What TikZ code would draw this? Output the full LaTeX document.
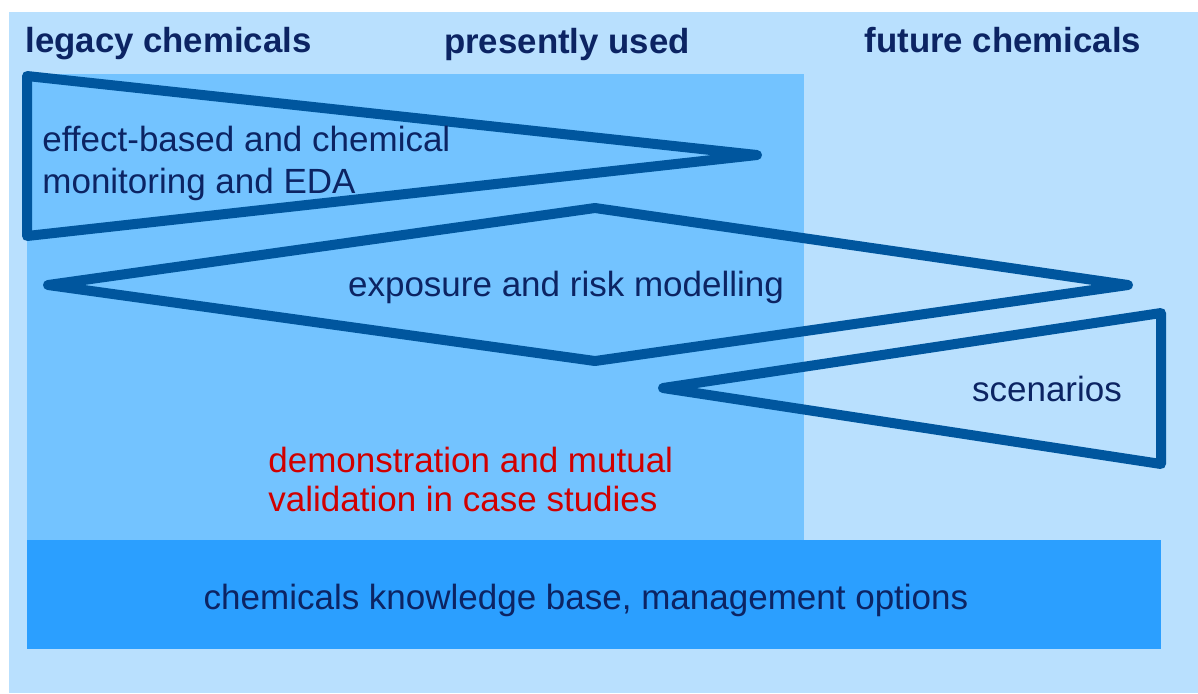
\documentclass[tikz,border=0pt]{standalone}
\usepackage{fontspec}
\setmainfont{Liberation Sans}
\definecolor{bglight}{HTML}{B9E0FE}
\definecolor{bgmid}{HTML}{73C3FF}
\definecolor{bgstrong}{HTML}{2B9FFF}
\definecolor{edgeblue}{HTML}{00569E}
\definecolor{navy}{HTML}{0C2463}
\definecolor{casered}{HTML}{D00000}
\tikzstyle{outline}=[draw=edgeblue, line width=5pt, line join=round, line cap=round]
\tikzstyle{txt}=[text=navy, inner sep=0pt, font=\fontsize{17.5}{19.5}\selectfont]
\tikzstyle{heading}=[txt, font=\bfseries\fontsize{17.4}{20}\selectfont]

\begin{document}
\begin{tikzpicture}[x=0.5pt,y=-0.5pt]
\useasboundingbox (0,0) rectangle (1198,693);
% panels
\fill[bglight] (9,12) rectangle (1198,693);
\fill[bgmid] (27,74) rectangle (804,540);
\fill[bgstrong] (27,540) rectangle (1161,649);
% headings
\node[heading, anchor=west] (legacy) at (25,44) {legacy chemicals};
\node[heading] (present) at (567,44) {presently used};
\node[heading] (future) at (1003,40) {future chemicals};
% monitoring wedge
\coordinate (m1) at (27,76);
\coordinate (m2) at (757,155);
\coordinate (m3) at (27,236);
\draw[outline] (m1) -- (m2) -- (m3) -- cycle;
% modelling diamond
\coordinate (d1) at (48,285);
\coordinate (d2) at (595,208);
\coordinate (d3) at (1128,285);
\coordinate (d4) at (595,361);
\draw[outline] (d1) -- (d2) -- (d3) -- (d4) -- cycle;
% scenario wedge
\coordinate (s1) at (663,388);
\coordinate (s2) at (1161,313);
\coordinate (s3) at (1161,464);
\draw[outline] (s1) -- (s2) -- (s3) -- cycle;
% texts
\node[txt, anchor=west, align=left, font=\fontsize{17.5}{21}\selectfont] (monitor) at (42,163) {effect-based and chemical\\monitoring and EDA};
\node[txt] (model) at (566,287) {exposure and risk modelling};
\node[txt] (scen) at (1047,389) {scenarios};
\node[txt, text=casered, anchor=west, align=left] (demo) at (268,479) {demonstration and mutual\\validation in case studies};
\node[txt] (base) at (586,600) {chemicals knowledge base, management options};
\end{tikzpicture}
\end{document}
